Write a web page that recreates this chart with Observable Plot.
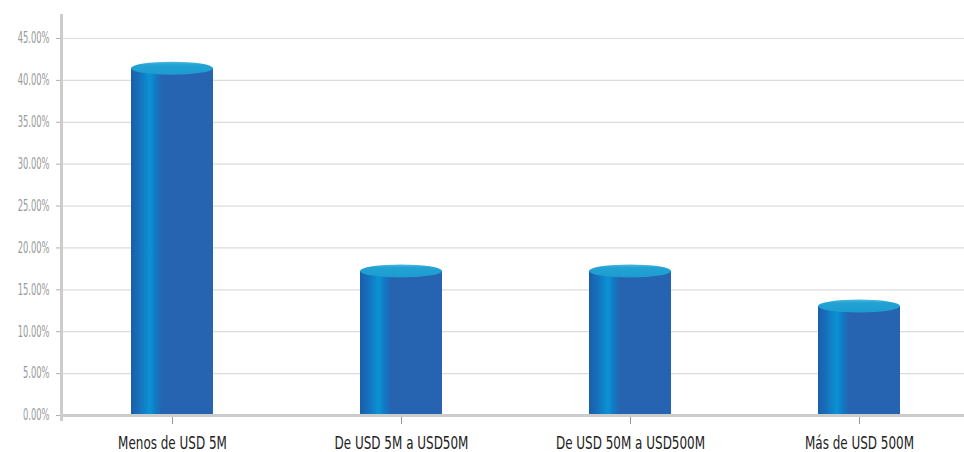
<!DOCTYPE html>
<html>
<head>
<meta charset="utf-8">
<script src="https://cdn.jsdelivr.net/npm/d3@7"></script>
<script src="https://cdn.jsdelivr.net/npm/@observablehq/plot@0.6"></script>
<style>
  html, body { margin: 0; padding: 0; background: #fff; }
  #chart svg { display: block; }
</style>
</head>
<body>
<div id="chart"></div>
<script>
const categories = ["Menos de USD 5M", "De USD 5M a USD50M", "De USD 50M a USD500M", "Más de USD 500M"];
const values = [41.4, 17.2, 17.2, 13.0];
const yTicks = [0, 5, 10, 15, 20, 25, 30, 35, 40, 45];

const data = categories.map((c, i) => ({category: c, value: values[i]}));
const FONT = "'DejaVu Sans Condensed', 'Liberation Sans Narrow', sans-serif";

const plot = Plot.plot({
  width: 964,
  height: 452,
  marginLeft: 61,
  marginRight: 0,
  marginTop: 14,
  marginBottom: 37,
  style: {fontFamily: FONT, background: "#fff", overflow: "visible"},
  x: {domain: categories, range: [-17.6, 1049.6], padding: 0.64, label: null},
  y: {domain: [0, 45], range: [415, 38], label: null},
  marks: [
    Plot.gridY(yTicks, {stroke: "#dcdcdc", strokeOpacity: 1, strokeWidth: 1.2}),
    Plot.axisY(yTicks, {
      tickFormat: d => d.toFixed(2) + "%",
      tickSize: 5,
      tickPadding: 7,
      stroke: "#b0b0b0",
      fill: "#999999",
      fontSize: 15,
      label: null
    }),
    Plot.barY(data, {x: "category", y: "value", fill: "url(#cylGrad)"}),
    Plot.axisX({
      tickSize: 9,
      tickPadding: 12,
      stroke: "#999",
      fill: "#222",
      fontSize: 18,
      label: null
    }),
    Plot.ruleY([0], {stroke: "#cccccc", strokeWidth: 3})
  ]
});

// condense tick label glyphs horizontally (reference uses a condensed typeface)
plot.querySelectorAll('g[aria-label="y-axis tick label"] text').forEach(t => {
  t.setAttribute("transform", (t.getAttribute("transform") || "") + " scale(0.62,1)");
});
plot.querySelectorAll('g[aria-label="x-axis tick label"] text').forEach(t => {
  t.setAttribute("transform", (t.getAttribute("transform") || "") + " scale(0.74,1)");
});

// gradient definitions
const svg = d3.select(plot);
const defs = svg.insert("defs", ":first-child");
const g = defs.append("linearGradient").attr("id", "cylGrad")
  .attr("x1", 0).attr("x2", 1).attr("y1", 0).attr("y2", 0);
[[0, "#1b5ea9"], [0.1, "#1670bd"], [0.23, "#0a93d3"], [0.3, "#1279c4"], [0.38, "#2663b0"], [1, "#2663b0"]]
  .forEach(([o, c]) => g.append("stop").attr("offset", o).attr("stop-color", c));
const tg = defs.append("linearGradient").attr("id", "topGrad")
  .attr("x1", 0).attr("x2", 0).attr("y1", 0).attr("y2", 1);
[[0, "#4fb8de"], [0.25, "#22a3d4"], [1, "#1d9bd0"]]
  .forEach(([o, c]) => tg.append("stop").attr("offset", o).attr("stop-color", c));

// left axis line
const ys = plot.scale("y");
const xs = plot.scale("x");
svg.append("line")
  .attr("x1", 61.5).attr("x2", 61.5)
  .attr("y1", 14).attr("y2", ys.apply(0) + 6)
  .attr("stroke", "#cccccc").attr("stroke-width", 3);

// cylinder tops
const bw = xs.bandwidth;
svg.append("g").selectAll("ellipse").data(data).join("ellipse")
  .attr("cx", d => xs.apply(d.category) + bw / 2)
  .attr("cy", d => ys.apply(d.value))
  .attr("rx", bw / 2)
  .attr("ry", 6.5)
  .attr("fill", "url(#topGrad)");

document.getElementById("chart").appendChild(plot);
</script>
</body>
</html>
